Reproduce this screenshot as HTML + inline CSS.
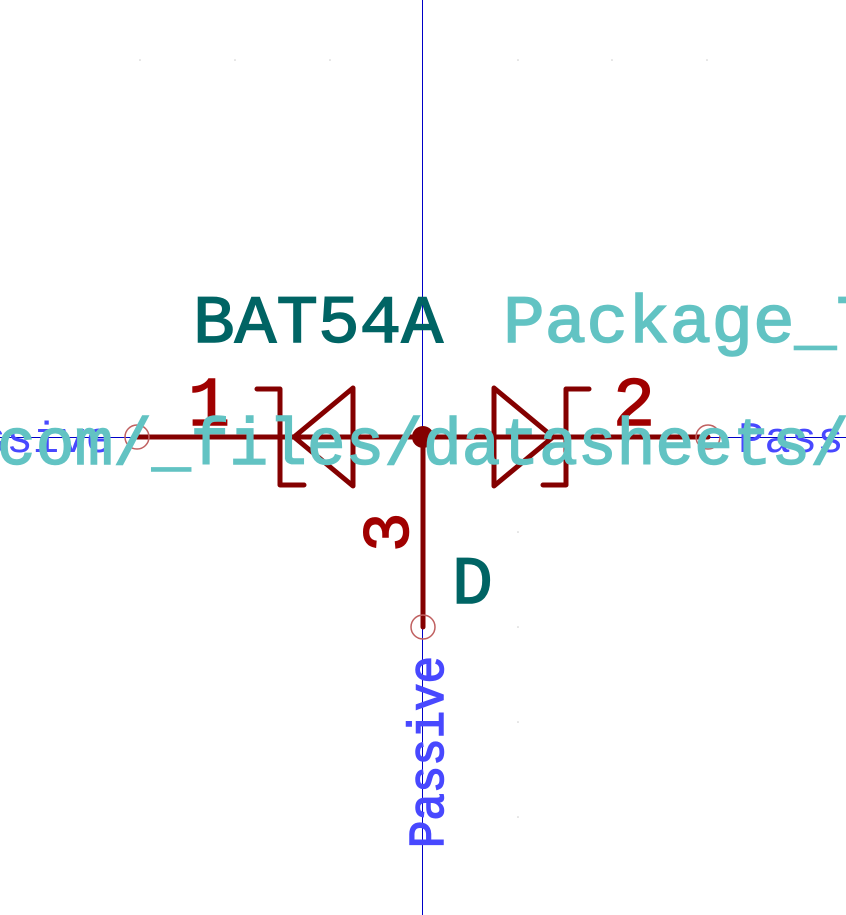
<!DOCTYPE html>
<html><head><meta charset="utf-8"><style>
html,body{margin:0;padding:0;background:#fff;width:846px;height:915px;overflow:hidden}
text{font-family:"Liberation Mono","DejaVu Sans Mono",monospace;stroke-width:1.5}
</style></head><body>
<svg width="846" height="915" viewBox="0 0 846 915">
<g fill="#ccc">
<circle cx="140" cy="60" r="0.8"/><circle cx="235" cy="60" r="0.8"/><circle cx="330" cy="60" r="0.8"/><circle cx="518" cy="60" r="0.8"/><circle cx="612" cy="60" r="0.8"/><circle cx="707" cy="60" r="0.8"/>
<circle cx="518" cy="532" r="0.8"/><circle cx="518" cy="627" r="0.8"/><circle cx="518" cy="722" r="0.8"/><circle cx="518" cy="817" r="0.8"/>
</g>
<line x1="422.5" y1="0" x2="422.5" y2="915" stroke="#0000c8" stroke-width="1"/>
<line x1="0" y1="437.5" x2="137" y2="437.5" stroke="#0000c8" stroke-width="1"/>
<line x1="708" y1="437.5" x2="846" y2="437.5" stroke="#0000c8" stroke-width="1"/>
<text x="193" y="342" font-size="68" fill="#006464" stroke="#006464" textLength="250" lengthAdjust="spacingAndGlyphs">BAT54A</text>
<text x="503" y="342" font-size="68" fill="#62c3c3" stroke="#62c3c3" textLength="375" lengthAdjust="spacingAndGlyphs">Package_T</text>
<g stroke="#840000" stroke-width="5" fill="none" stroke-linecap="round" stroke-linejoin="round">
<line x1="137" y1="437" x2="708" y2="437"/>
<line x1="423" y1="437" x2="423" y2="627"/>
<polygon points="294,437 353,388 353,486"/>
<polyline points="257,389 280,389 280,485 304,485"/>
<polygon points="553,437 494,388 494,486"/>
<polyline points="589,389 566,389 566,485 543,485"/>
</g>
<circle cx="423" cy="437" r="11" fill="#840000"/>
<g stroke="#c06060" stroke-width="1.5" fill="none">
<circle cx="137" cy="437" r="12"/><circle cx="708" cy="437" r="12"/><circle cx="423" cy="627" r="12"/>
</g>
<text x="188" y="425" font-size="70" fill="#a00000" stroke="#a00000">1</text>
<text x="613" y="425" font-size="70" fill="#a00000" stroke="#a00000">2</text>
<text transform="translate(408,552) rotate(-90)" font-size="66" fill="#a00000" stroke="#a00000">3</text>
<text x="452" y="603" font-size="68" fill="#006464" stroke="#006464">D</text>
<text x="-20" y="452" font-size="44" fill="#4848ff">ssive</text>
<text x="738" y="452" font-size="44" fill="#4848ff">Pass</text>
<text transform="translate(443,848) rotate(-90)" font-size="50" fill="#4848ff" stroke="#4848ff" stroke-width="0.8" textLength="192" lengthAdjust="spacingAndGlyphs">Passive</text>
<text x="-3" y="464" font-size="66" fill="#62c3c3" stroke="#62c3c3" textLength="852" lengthAdjust="spacingAndGlyphs">com/_files/datasheets/</text>
</svg>
</body></html>
